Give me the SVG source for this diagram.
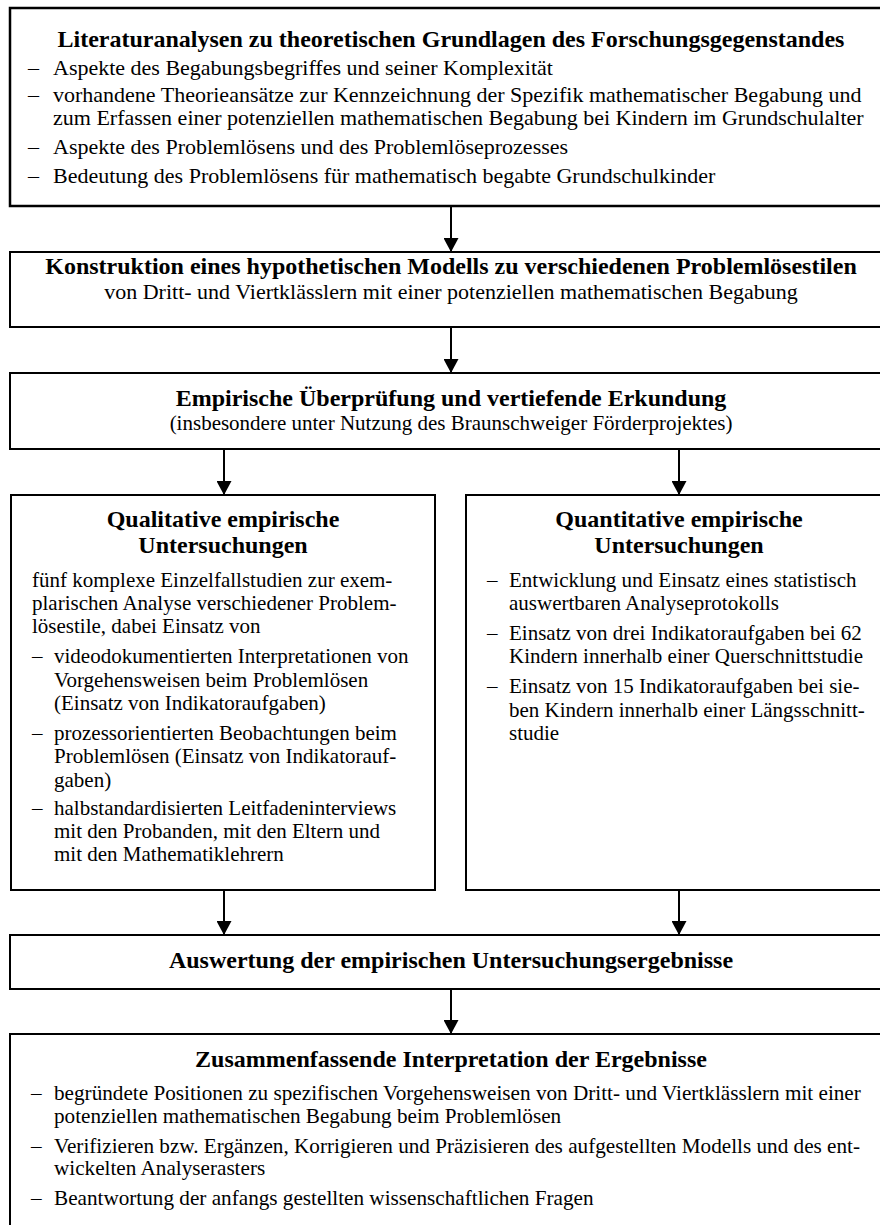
<svg xmlns="http://www.w3.org/2000/svg" width="880" height="1225" viewBox="0 0 880 1225">
<defs>
<style>
.box{fill:#fff;stroke:#000;stroke-width:2}
.t{font-family:"Liberation Serif","Times New Roman",serif;font-size:24px;font-weight:bold;text-anchor:middle;fill:#000}
.s{font-family:"Liberation Serif","Times New Roman",serif;font-size:22px;text-anchor:middle;fill:#000}
.b{font-family:"Liberation Serif","Times New Roman",serif;font-size:22px;fill:#000}
.z{font-family:"Liberation Serif","Times New Roman",serif;font-size:21.2px;fill:#000}
.n{font-family:"Liberation Serif","Times New Roman",serif;font-size:21px;fill:#000}
.c{stroke:#000;stroke-width:2;fill:none}
</style>
<marker id="ah" viewBox="0 0 14 15" refX="14" refY="7.5" markerWidth="14" markerHeight="15" markerUnits="userSpaceOnUse" orient="auto">
<path d="M0,0 L14,7.5 L0,15 Z" fill="#000"/>
</marker>
</defs>
<rect width="880" height="1225" fill="#fff"/>
<g id="connectors">
<line class="c" x1="451" y1="206" x2="451" y2="252" marker-end="url(#ah)"/>
<line class="c" x1="451" y1="327" x2="451" y2="373" marker-end="url(#ah)"/>
<line class="c" x1="224" y1="449" x2="224" y2="495" marker-end="url(#ah)"/>
<line class="c" x1="679" y1="449" x2="679" y2="495" marker-end="url(#ah)"/>
<line class="c" x1="224" y1="890" x2="224" y2="935" marker-end="url(#ah)"/>
<line class="c" x1="679" y1="890" x2="679" y2="935" marker-end="url(#ah)"/>
<line class="c" x1="451" y1="989" x2="451" y2="1034" marker-end="url(#ah)"/>
</g>
<g id="n1">
<rect class="box" x="10" y="8" width="883" height="198" style="stroke-width:2.5"/>
<text class="t" x="451" y="47">Literaturanalysen zu theoretischen Grundlagen des Forschungsgegenstandes</text>
<text class="b" x="28" y="75">–</text><text class="b" x="53" y="75">Aspekte des Begabungsbegriffes und seiner Komplexität</text>
<text class="b" x="28" y="102">–</text><text class="b" x="53" y="102">vorhandene Theorieansätze zur Kennzeichnung der Spezifik mathematischer Begabung und</text>
<text class="b" x="53" y="125">zum Erfassen einer potenziellen mathematischen Begabung bei Kindern im Grundschulalter</text>
<text class="b" x="28" y="154">–</text><text class="b" x="53" y="154">Aspekte des Problemlösens und des Problemlöseprozesses</text>
<text class="b" x="28" y="183">–</text><text class="b" x="53" y="183">Bedeutung des Problemlösens für mathematisch begabte Grundschulkinder</text>
</g>
<g id="n2">
<rect class="box" x="10" y="252" width="883" height="75"/>
<text class="t" x="451" y="274">Konstruktion eines hypothetischen Modells zu verschiedenen Problemlösestilen</text>
<text class="s" x="451" y="299">von Dritt- und Viertklässlern mit einer potenziellen mathematischen Begabung</text>
</g>
<g id="n3">
<rect class="box" x="10" y="373" width="883" height="76"/>
<text class="t" x="451" y="406">Empirische Überprüfung und vertiefende Erkundung</text>
<text class="s" x="451" y="430" style="font-size:21px">(insbesondere unter Nutzung des Braunschweiger Förderprojektes)</text>
</g>
<g id="n4">
<rect class="box" x="11" y="495" width="424" height="395"/>
<text class="t" x="223" y="527">Qualitative empirische</text>
<text class="t" x="223" y="553">Untersuchungen</text>
<text class="n" x="32" y="587">fünf komplexe Einzelfallstudien zur exem-</text>
<text class="n" x="32" y="610">plarischen Analyse verschiedener Problem-</text>
<text class="n" x="32" y="633">lösestile, dabei Einsatz von</text>
<text class="n" x="32" y="663">–</text><text class="n" x="54" y="663">videodokumentierten Interpretationen von</text>
<text class="n" x="54" y="687">Vorgehensweisen beim Problemlösen</text>
<text class="n" x="54" y="710">(Einsatz von Indikatoraufgaben)</text>
<text class="n" x="32" y="740">–</text><text class="n" x="54" y="740">prozessorientierten Beobachtungen beim</text>
<text class="n" x="54" y="763">Problemlösen (Einsatz von Indikatorauf-</text>
<text class="n" x="54" y="787">gaben)</text>
<text class="n" x="32" y="815">–</text><text class="n" x="54" y="815">halbstandardisierten Leitfadeninterviews</text>
<text class="n" x="54" y="838">mit den Probanden, mit den Eltern und</text>
<text class="n" x="54" y="861">mit den Mathematiklehrern</text>
</g>
<g id="n5">
<rect class="box" x="466" y="495" width="427" height="395"/>
<text class="t" x="679" y="527">Quantitative empirische</text>
<text class="t" x="679" y="553">Untersuchungen</text>
<text class="n" x="487" y="587">–</text><text class="n" x="509" y="587">Entwicklung und Einsatz eines statistisch</text>
<text class="n" x="509" y="610">auswertbaren Analyseprotokolls</text>
<text class="n" x="487" y="640">–</text><text class="n" x="509" y="640">Einsatz von drei Indikatoraufgaben bei 62</text>
<text class="n" x="509" y="663">Kindern innerhalb einer Querschnittstudie</text>
<text class="n" x="487" y="693">–</text><text class="n" x="509" y="693">Einsatz von 15 Indikatoraufgaben bei sie-</text>
<text class="n" x="509" y="717">ben Kindern innerhalb einer Längsschnitt-</text>
<text class="n" x="509" y="740">studie</text>
</g>
<g id="n6">
<rect class="box" x="10" y="935" width="883" height="54"/>
<text class="t" x="451" y="968">Auswertung der empirischen Untersuchungsergebnisse</text>
</g>
<g id="n7">
<rect class="box" x="10" y="1034" width="883" height="200"/>
<text class="t" x="451" y="1067">Zusammenfassende Interpretation der Ergebnisse</text>
<text class="z" x="31" y="1100">–</text><text class="z" x="54" y="1100">begründete Positionen zu spezifischen Vorgehensweisen von Dritt- und Viertklässlern mit einer</text>
<text class="z" x="54" y="1123">potenziellen mathematischen Begabung beim Problemlösen</text>
<text class="z" x="31" y="1153">–</text><text class="z" x="54" y="1153">Verifizieren bzw. Ergänzen, Korrigieren und Präzisieren des aufgestellten Modells und des ent-</text>
<text class="z" x="54" y="1175">wickelten Analyserasters</text>
<text class="z" x="31" y="1205">–</text><text class="z" x="54" y="1205">Beantwortung der anfangs gestellten wissenschaftlichen Fragen</text>
</g>
</svg>
